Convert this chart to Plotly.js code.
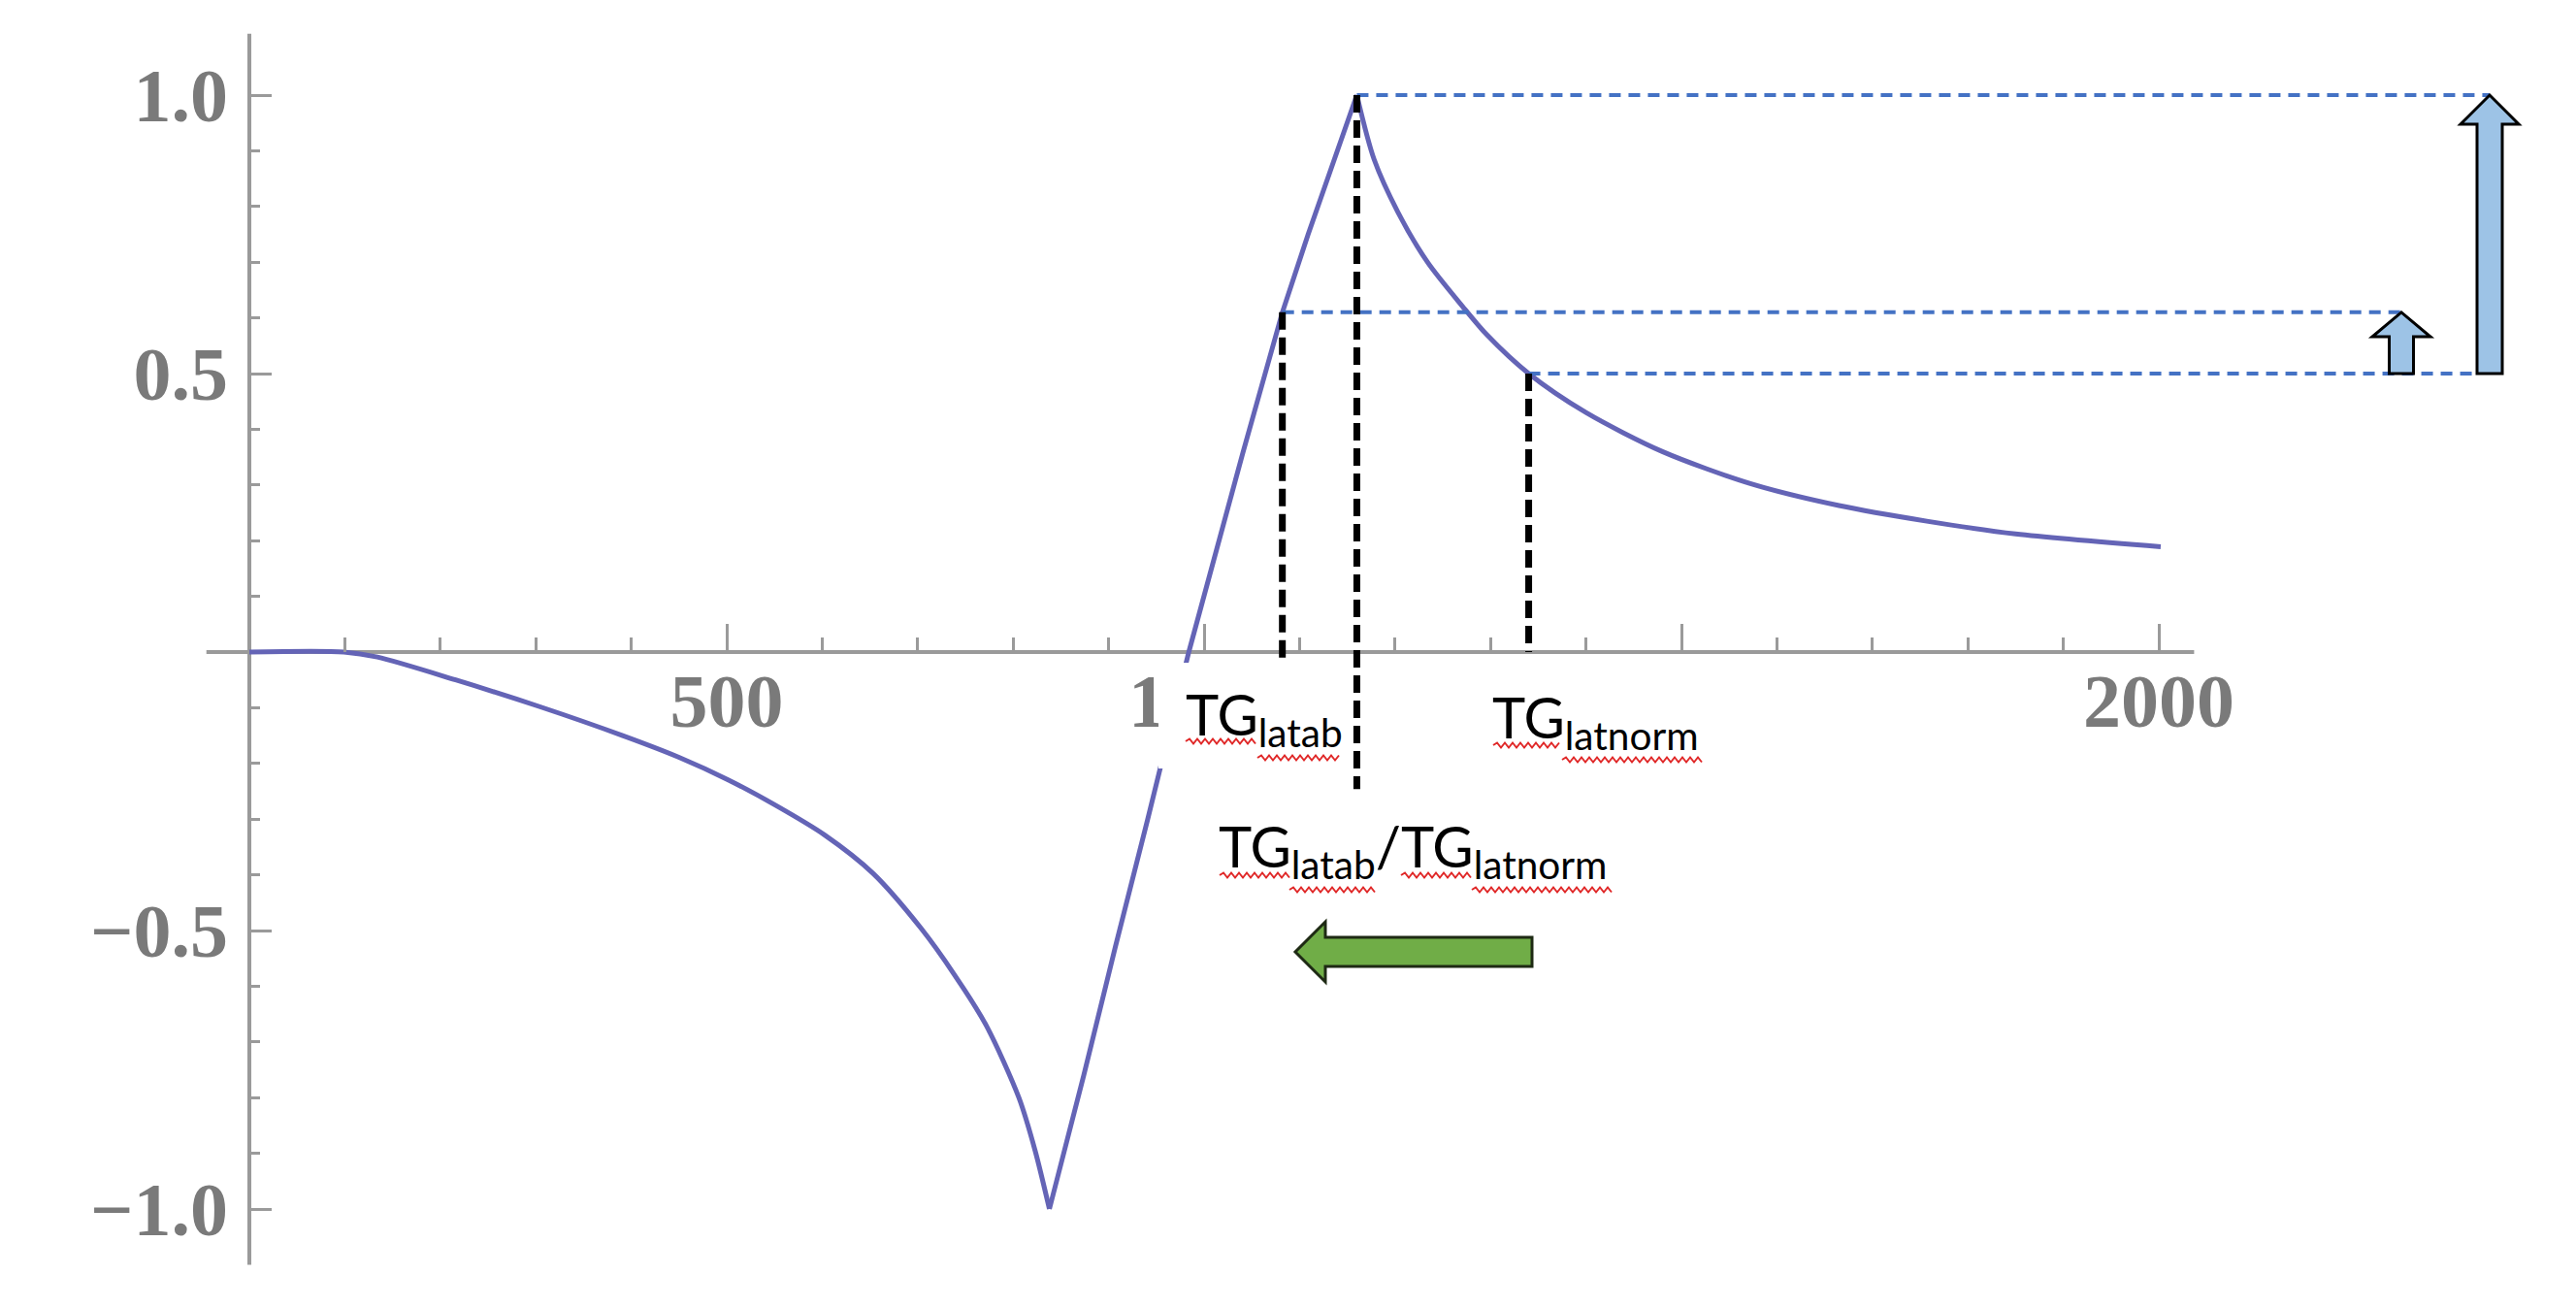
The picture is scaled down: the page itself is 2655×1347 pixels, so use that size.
<!DOCTYPE html>
<html>
<head>
<meta charset="utf-8">
<script src="https://cdn.plot.ly/plotly-3.0.1.min.js"></script>
<style>
html, body { margin: 0; padding: 0; background: #fff; }
#chart { width: 2655px; height: 1347px; }
</style>
</head>
<body>
<div id="chart"></div>
<script>
// curve, in three pieces split at the two cusps
var fallX = [0, 99, 134, 216, 304, 391, 450, 501, 552, 603, 653, 704, 738, 772, 806, 823, 838];
var fallY = [0, 0, -0.009, -0.05, -0.098, -0.15, -0.189, -0.229, -0.276, -0.329, -0.397, -0.497, -0.578, -0.671, -0.80, -0.895, -1.0];
var riseX = [838, 874, 907, 941, 984, 1041, 1082, 1109, 1160];
var riseY = [-1.0, -0.76, -0.53, -0.3, 0, 0.36, 0.61, 0.75, 1.0];
var decayX = [1160, 1178, 1203, 1234, 1271, 1296, 1340, 1400, 1480, 1573, 1665, 1757, 1850, 2002];
var decayY = [1.0, 0.885, 0.79, 0.70, 0.62, 0.57, 0.5, 0.43, 0.36, 0.302, 0.263, 0.235, 0.212, 0.189];

// axis ticks
var xMajor = [500, 1000, 1500, 2000];
var xLabels = ["500", "1000", "1500", "2000"];
var xMinor = [100, 200, 300, 400, 600, 700, 800, 900, 1100, 1200, 1300, 1400, 1600, 1700, 1800, 1900];
var yMajor = [-1, -0.5, 0.5, 1];
var yLabels = ["\u22121.0", "\u22120.5", "0.5", "1.0"];
var yMinor = [-0.9, -0.8, -0.7, -0.6, -0.4, -0.3, -0.2, -0.1, 0.1, 0.2, 0.3, 0.4, 0.6, 0.7, 0.8, 0.9];

// marked points: TG latab, peak, TG latnorm
var markX = [1082, 1160, 1340];
var markY = [0.61, 1.0, 0.5];
var markBottom = [-0.017, -0.246, 0];

// pixel <-> data helpers (plot area is the whole page)
var W = 2655, H = 1347;
var X0 = 257, KX = 0.984, Y0 = 672, KY = 574;
function dx(px) { return (px - X0) / KX; }
function dy(py) { return (Y0 - py) / KY; }
function pyOf(v) { return Y0 - v * KY; }

function pathOf(pts) {
    return "M" + pts.map(function (p) { return dx(p[0]) + "," + dy(p[1]); }).join("L") + "Z";
}

function upArrow(cx, tip, base, bottom, head, shaft) {
    return pathOf([[cx - shaft, bottom], [cx - shaft, base], [cx - head, base], [cx, tip],
                   [cx + head, base], [cx + shaft, base], [cx + shaft, bottom]]);
}

function leftArrow(tip, base, tail, cy, head, shaft) {
    return pathOf([[tail, cy - shaft], [base, cy - shaft], [base, cy - head], [tip, cy],
                   [base, cy + head], [base, cy + shaft], [tail, cy + shaft]]);
}

function squiggle(x0, x1, y) {
    var s = "M" + dx(x0) + "," + dy(y);
    var up = true;
    for (var x = x0 + 4; x <= x1; x += 4) {
        s += "L" + dx(x) + "," + dy(y + (up ? -2.5 : 2.5));
        up = !up;
    }
    return s;
}

var curveLine = {color: "rgb(100,100,182)", width: 5};
function piece(xs, ys, shape) {
    return {x: xs, y: ys, mode: "lines", line: Object.assign({shape: shape, smoothing: 0.8}, curveLine), hoverinfo: "skip"};
}
var data = [piece(fallX, fallY, "spline"), piece(riseX, riseY, "linear"), piece(decayX, decayY, "spline")];

var axisGrey = "#9a9a9a";
var shapes = [];

// axes lines
shapes.push({type: "line", xref: "x", yref: "y", x0: -45, x1: 2037, y0: 0, y1: 0,
             line: {color: axisGrey, width: 4}, layer: "below"});
shapes.push({type: "line", xref: "x", yref: "y", x0: 0, x1: 0, y0: -1.10, y1: 1.11,
             line: {color: axisGrey, width: 4}, layer: "below"});

// white boxes behind the labels
shapes.push({type: "rect", xref: "x", yref: "y", x0: dx(1194), x1: dx(1388), y0: dy(683), y1: dy(792),
             fillcolor: "#ffffff", line: {width: 0}});
shapes.push({type: "rect", xref: "x", yref: "y", x0: dx(1520), x1: dx(1830), y0: dy(684), y1: dy(792),
             fillcolor: "#ffffff", line: {width: 0}});

// blue dashed levels
var levelEnd = [2475, 2566, 2553];
for (var i = 0; i < 3; i++) {
    shapes.push({type: "line", xref: "x", yref: "y", x0: markX[i], x1: dx(levelEnd[i]), y0: markY[i], y1: markY[i],
                 line: {color: "#4472C4", width: 4, dash: "12px,8px"}});
}

// black dashed verticals
for (var j = 0; j < 3; j++) {
    shapes.push({type: "line", xref: "x", yref: "y", x0: markX[j], x1: markX[j], y0: markY[j], y1: markBottom[j],
                 line: {color: "#000000", width: 7, dash: "18px,8px"}});
}

// block arrows
shapes.push({type: "path", xref: "x", yref: "y",
             path: upArrow(2475, pyOf(markY[0]), 347, pyOf(markY[2]), 30, 12.5),
             fillcolor: "#9DC3E6", line: {color: "#000000", width: 3}});
shapes.push({type: "path", xref: "x", yref: "y",
             path: upArrow(2566, pyOf(markY[1]), 128, pyOf(markY[2]), 30, 13),
             fillcolor: "#9DC3E6", line: {color: "#000000", width: 3}});
shapes.push({type: "path", xref: "x", yref: "y",
             path: leftArrow(1335, 1366, 1579, 981, 31, 15),
             fillcolor: "#70AD47", line: {color: "#1e2a14", width: 3}});

// spell-check underlines
var squig = [[1222, 1296, 764], [1296, 1383, 781],
             [1539, 1610, 768], [1610, 1755, 783],
             [1257, 1329, 902], [1329, 1419, 917], [1444, 1517, 902], [1517, 1661, 917]];
squig.forEach(function (s) {
    shapes.push({type: "path", xref: "x", yref: "y", path: squiggle(s[0], s[1], s[2]),
                 line: {color: "#e02828", width: 2}});
});

var labelFont = {family: "Lato, 'Open Sans', sans-serif", size: 58, color: "#000000"};
var annotations = [
    {text: "TG<sub>latab</sub>", x: dx(1221), y: dy(700), xanchor: "left", yanchor: "top"},
    {text: "TG<sub>latnorm</sub>", x: dx(1537), y: dy(703), xanchor: "left", yanchor: "top"},
    {text: "TG<sub>latab</sub>/TG<sub>latnorm</sub>", x: dx(1255), y: dy(836), xanchor: "left", yanchor: "top"}
].map(function (a) {
    a.xref = "x"; a.yref = "y"; a.showarrow = false; a.font = labelFont; a.borderpad = 0;
    return a;
});

var tickFont = {family: "'Liberation Serif', 'Times New Roman', serif", size: 78, color: "#7a7a7a", weight: "bold"};

var layout = {
    width: W,
    height: H,
    margin: {l: 0, r: 0, t: 0, b: 0},
    paper_bgcolor: "#ffffff",
    plot_bgcolor: "#ffffff",
    showlegend: false,
    xaxis: {
        range: [dx(0), dx(W)],
        anchor: "free",
        position: 1 - Y0 / H,
        showgrid: false, zeroline: false, showline: false,
        tickmode: "array", tickvals: xMajor, ticktext: xLabels,
        ticks: "inside", ticklen: 29, tickwidth: 3, tickcolor: axisGrey,
        tickfont: tickFont, ticklabelstandoff: -2,
        minor: {tickmode: "array", tickvals: xMinor, ticks: "inside", ticklen: 15, tickwidth: 3, tickcolor: axisGrey},
        fixedrange: true
    },
    yaxis: {
        range: [dy(H), dy(0)],
        anchor: "free",
        position: X0 / W,
        side: "left",
        showgrid: false, zeroline: false, showline: false,
        tickmode: "array", tickvals: yMajor, ticktext: yLabels,
        ticks: "inside", ticklen: 22, tickwidth: 3, tickcolor: axisGrey,
        tickfont: tickFont, ticklabelstandoff: 22,
        minor: {tickmode: "array", tickvals: yMinor, ticks: "inside", ticklen: 10, tickwidth: 3, tickcolor: axisGrey},
        fixedrange: true
    },
    shapes: shapes,
    annotations: annotations
};

Plotly.newPlot("chart", data, layout, {displayModeBar: false, staticPlot: true});
</script>
</body>
</html>
